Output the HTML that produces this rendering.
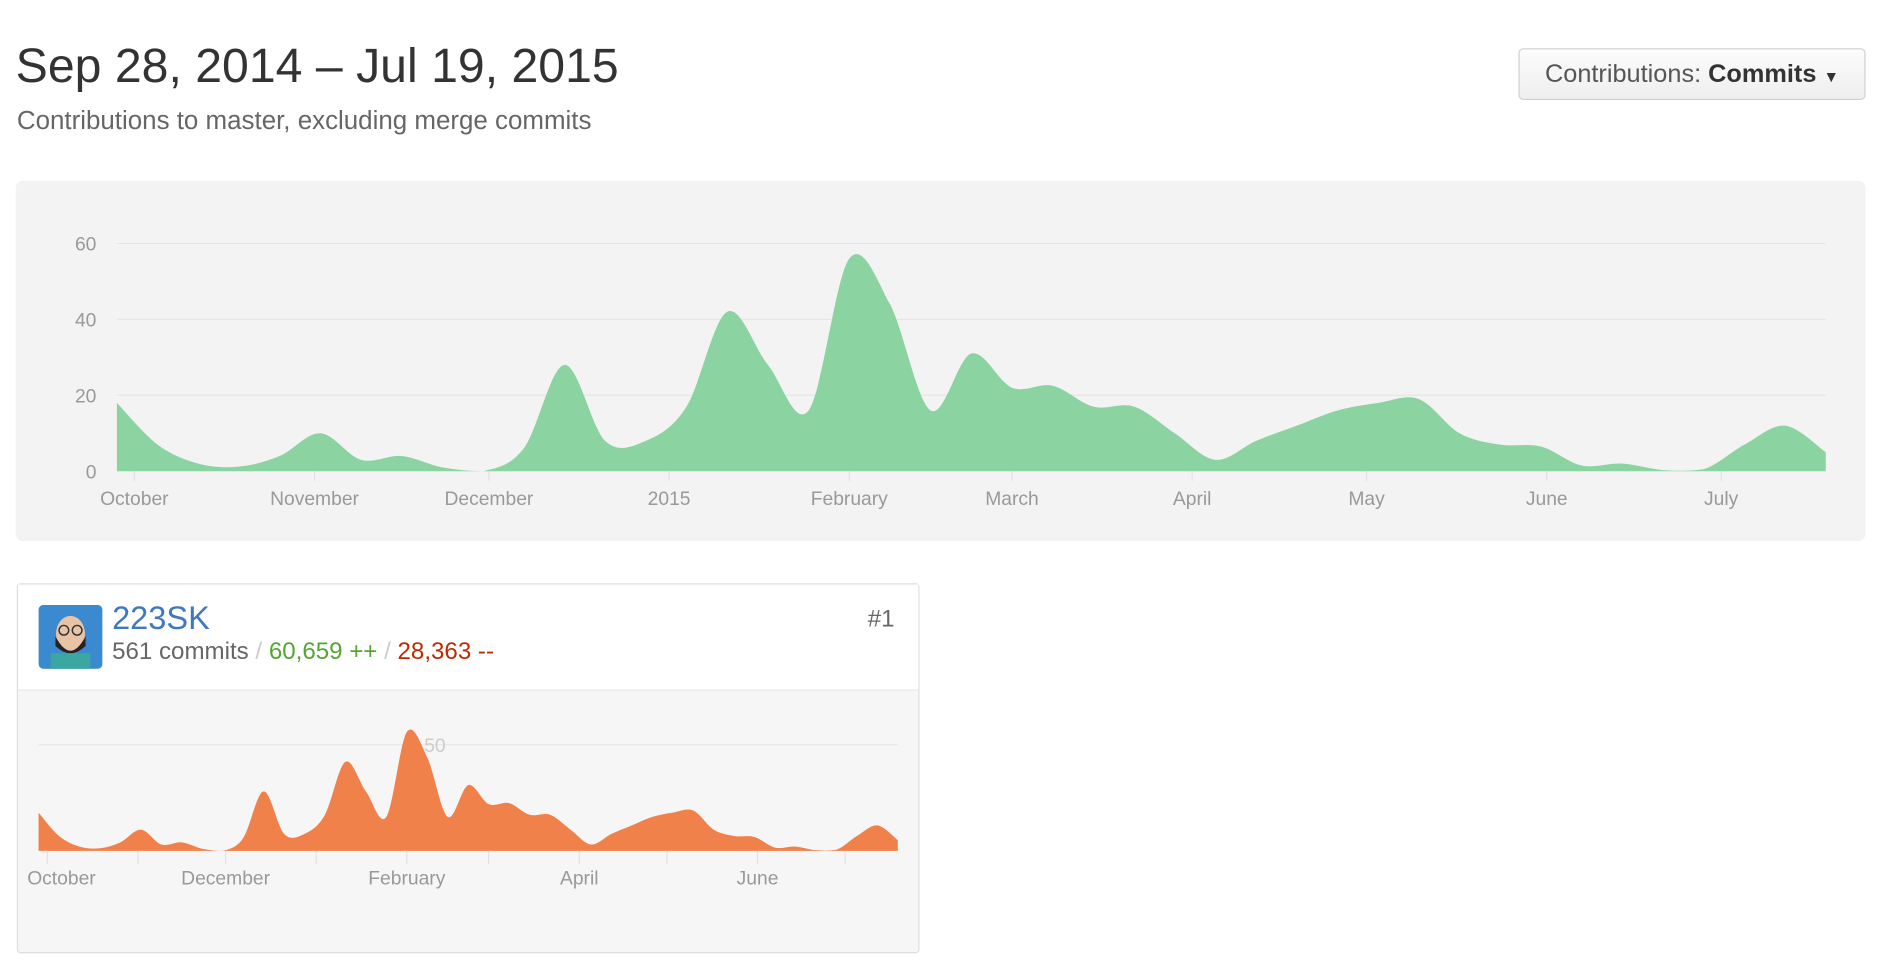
<!DOCTYPE html>
<html><head><meta charset="utf-8"><style>
html,body{margin:0;padding:0;background:#fff;width:1880px;height:974px;overflow:hidden}
#wrap{position:absolute;left:0;top:0;width:1560px;height:808px;transform:scale(1.20513);transform-origin:0 0;font-family:"Liberation Sans",Arial,sans-serif}
.abs{position:absolute}
</style></head><body>
<div id="wrap">
<div class="abs" style="left:13px;top:33px;font-size:40px;color:#333;white-space:nowrap">Sep 28, 2014 – Jul 19, 2015</div>
<div class="abs" style="left:14px;top:88px;font-size:21.5px;color:#666;white-space:nowrap">Contributions to master, excluding merge commits</div>
<div class="abs" style="left:1260px;top:40px;width:286px;height:41px;border:1px solid #d0d0d0;border-radius:4px;background:linear-gradient(#fcfcfc,#eee);font-size:21px;color:#555;line-height:41px;text-align:center;white-space:nowrap">Contributions: <b style="color:#333">Commits</b> <span style="font-size:13px;color:#333">▼</span></div>
<div class="abs" style="left:13px;top:150px;width:1535px;height:299px;background:#f3f3f3;border-radius:6px"></div>
<div class="abs" style="left:14px;top:484px;width:747px;height:305px;border:1px solid #ddd;border-radius:3px;background:#f6f6f6">
 <div style="position:absolute;left:0;top:0;width:747px;height:87px;background:#fff;border-bottom:1px solid #e8e8e8"></div>
</div>
<svg class="abs" style="left:0;top:0" width="1560" height="808" id="svg"></svg>
<svg class="abs" style="left:32px;top:502px" width="53" height="53" viewBox="0 0 53 53">
 <rect width="53" height="53" rx="4" fill="#3b8ad0"/>
 <rect x="10" y="40" width="33" height="13" fill="#3aa7a0"/>
 <ellipse cx="26.5" cy="24" rx="12" ry="15" fill="#e9c3a5"/>
 <path d="M14 26 Q26.5 50 39 26 L39 34 Q26.5 46 14 34Z" fill="#2a2222"/>
 <circle cx="21" cy="21" r="4" fill="none" stroke="#333" stroke-width="1.2"/>
 <circle cx="32" cy="21" r="4" fill="none" stroke="#333" stroke-width="1.2"/>
</svg>
<div class="abs" style="left:93px;top:498px;font-size:27px;color:#4078c0">223SK</div>
<div class="abs" style="left:93px;top:530px;font-size:20px;color:#666;white-space:nowrap">561 commits <span style="color:#ccc">/</span> <span style="color:#55a532">60,659 ++</span> <span style="color:#ccc">/</span> <span style="color:#bd2c00">28,363 --</span></div>
<div class="abs" style="left:720px;top:503px;font-size:20px;color:#666">#1</div>
</div>
<script>
const mainMonths=["October","November","December","2015","February","March","April","May","June","July"];
const mainMonthDays=[3,34,64,95,126,154,185,215,246,276];
const yTicks=[0,20,40,60];
const commits=[18,7,2,1.2,4,10,3,4,1,0,6,28,8,8,17,42,28,16,56,44,16,31,22,22.5,17,17,10,3,8,12,16,18,19,10,7,6.5,1.5,2,0.3,0.5,7,12,5];
const userCommits=[18,7,2,1.2,4,10,3,4,1,0,6,28,8,8,17,42,28,16,56,44,16,31,22,22.5,17,17,10,3,8,12,16,18,19,10,7,6.5,1.5,2,0.3,0.5,7,12,5];
const userTicks=[50];
const userMonths=["October","","December","","February","","April","","June",""];
const NS="http://www.w3.org/2000/svg";
const svg=document.getElementById('svg');
function mk(t,a,p){const e=document.createElementNS(NS,t);for(const k in a)e.setAttribute(k,a[k]);(p||svg).appendChild(e);return e;}
function areaPath(vals,x,y){
 const pts=vals.map((v,i)=>[x(i),y(v)]);
 let d="M"+pts[0][0]+","+y(0)+"L"+pts[0][0]+","+pts[0][1];
 for(let i=0;i<pts.length-1;i++){
  const p0=pts[Math.max(0,i-1)],p1=pts[i],p2=pts[i+1],p3=pts[Math.min(pts.length-1,i+2)];
  const c1x=p1[0]+(p2[0]-p0[0])/6,c1y=Math.min(y(0),p1[1]+(p2[1]-p0[1])/6);
  const c2x=p2[0]-(p3[0]-p1[0])/6,c2y=Math.min(y(0),p2[1]-(p3[1]-p1[1])/6);
  d+="C"+c1x+","+c1y+" "+c2x+","+c2y+" "+p2[0]+","+p2[1];
 }
 return d+"L"+pts[pts.length-1][0]+","+y(0)+"Z";
}
const X0=97,X1=1515,Y0=391,Y60=202;
const mx=i=>X0+i*(X1-X0)/(commits.length-1);
const mxd=d=>X0+d*(X1-X0)/294;
const my=v=>Y0-v*(Y0-Y60)/60;
yTicks.forEach(t=>{
 if(t>0){const g=mk('line',{x1:X0,x2:X1,y1:my(t),y2:my(t),stroke:'#e6e6e6','stroke-width':1});
 
 }
 const l=mk('text',{x:80,y:my(t)+6,'text-anchor':'end','font-size':16,fill:'#999','font-family':'Liberation Sans, sans-serif'});
 l.textContent=t;
 
 
});
const ma=mk('path',{d:areaPath(commits,mx,my),fill:'#8cd3a2'});


mainMonths.forEach((m,k)=>{
 const x=mxd(mainMonthDays[k]);
 const tk=mk('line',{x1:x,x2:x,y1:Y0,y2:Y0+8,stroke:'#e2e2e2'});
 
 
 const t=mk('text',{x:x,y:419,'text-anchor':'middle','font-size':16,fill:'#999','font-family':'Liberation Sans, sans-serif'});
 t.textContent=m;
 
 
});
const U0=32,U1=745,UY0=706,UY50=618;
const ux=i=>U0+i*(U1-U0)/(userCommits.length-1);
const uxd=d=>U0+d*(U1-U0)/294;
const uy=v=>UY0-v*(UY0-UY50)/50;
userTicks.forEach(t=>{
 const g=mk('line',{x1:U0,x2:U1,y1:uy(t),y2:uy(t),stroke:'#e8e8e8'});
 
 
});
const ua=mk('path',{d:areaPath(userCommits,ux,uy),fill:'#f1814b'});


userTicks.forEach(t=>{
 const l=mk('text',{x:352,y:uy(t)+6,'font-size':16,fill:'#ccc','font-family':'Liberation Sans, sans-serif'});
 l.textContent=t;
 
 
});
userMonths.forEach((m,k)=>{
 const x=uxd(mainMonthDays[k]);
 const tk=mk('line',{x1:x,x2:x,y1:UY0,y2:UY0+11,stroke:'#e2e2e2'});
 
 
 if(m){const t=mk('text',{x:k===0?51:x,y:734,'text-anchor':'middle','font-size':16,fill:'#999','font-family':'Liberation Sans, sans-serif'});
 t.textContent=m;
 
 }
});
</script>
</body></html>
